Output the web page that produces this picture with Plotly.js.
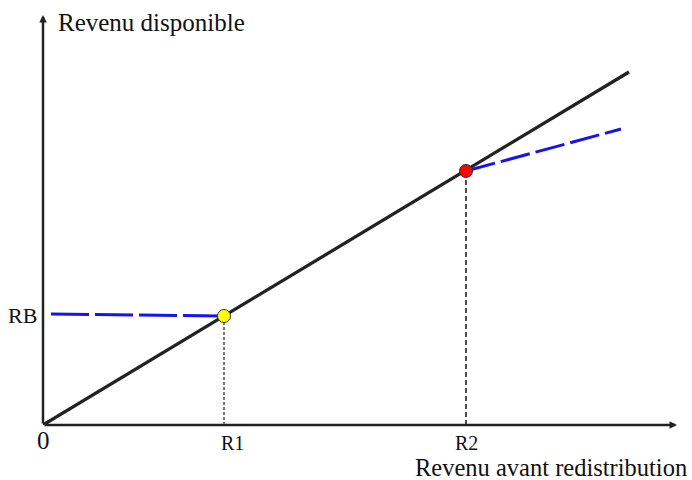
<!DOCTYPE html>
<html><head><meta charset="utf-8">
<script src="https://cdn.plot.ly/plotly-3.0.1.min.js"></script>
<style>html,body{margin:0;padding:0;background:#fff}</style>
</head><body><div id="chart" style="width:692px;height:480px"></div>
<script>
// Data (arbitrary income units)
var diagX = [0, 586];
var diagY = [0, 353];
var lowX = [8, 181];
var lowY = [111, 109];
var highX = [423, 578];
var highY = [254, 296];
var pointX = [181, 423];
var pointY = [109, 254];
var pointColors = ['#ffff00', '#ff0000'];
var tickLabels = ['0', 'R1', 'R2'];
var tickX = [0, 189, 423];
var rbLabel = 'RB';
var rbY = 110;
var xTitle = 'Revenu avant redistribution';
var yTitle = 'Revenu disponible';
var xMax = 634, yMax = 410;

var font = 'Liberation Serif, Times New Roman, serif';
var traces = [
  {x: diagX, y: diagY, mode: 'lines', line: {color: '#222', width: 3.3}, cliponaxis: false, hoverinfo: 'skip'},
  {x: lowX, y: lowY, mode: 'lines', line: {color: '#1414f0', width: 3, dash: '38px,6px'}, cliponaxis: false},
  {x: highX, y: highY, mode: 'lines', line: {color: '#1414f0', width: 3, dash: '30px,6px'}, cliponaxis: false},
  {x: [pointX[0], pointX[0]], y: [0, pointY[0]], mode: 'lines', line: {color: '#222', width: 1.2, dash: '3px,2px'}},
  {x: [pointX[1], pointX[1]], y: [0, pointY[1]], mode: 'lines', line: {color: '#222', width: 1.6, dash: '5px,3px'}},
  {x: pointX, y: pointY, mode: 'markers', marker: {color: pointColors, size: 13, line: {color: '#333', width: 1}}, cliponaxis: false}
];

var ann = [
  {x: xMax, y: 0, ax: 0, ay: 0, axref: 'x', ayref: 'y', xref: 'x', yref: 'y', showarrow: true, arrowhead: 2, arrowsize: 0.6, arrowwidth: 2.5, arrowcolor: '#222', text: ''},
  {x: 0, y: yMax, ax: 0, ay: 0, axref: 'x', ayref: 'y', xref: 'x', yref: 'y', showarrow: true, arrowhead: 2, arrowsize: 0.6, arrowwidth: 2.5, arrowcolor: '#222', text: ''},
  {x: 0, y: yMax, xref: 'x', yref: 'y', text: yTitle, showarrow: false, xanchor: 'left', yanchor: 'middle', xshift: 13, yshift: -7, font: {family: font, size: 25, color: '#111'}},
  {x: 1, y: 0, xref: 'paper', yref: 'y', text: xTitle, showarrow: false, xanchor: 'right', yanchor: 'middle', xshift: 12, yshift: -42, font: {family: font, size: 24.5, color: '#111'}},
  {x: 0, y: rbY, xref: 'x', yref: 'y', text: rbLabel, showarrow: false, xanchor: 'center', yanchor: 'middle', xshift: -21, font: {family: font, size: 22, color: '#111'}}
];
tickX.forEach(function (v, i) {
  ann.push({x: v, y: 0, xref: 'x', yref: 'y', text: tickLabels[i], showarrow: false, xanchor: 'center', yanchor: 'middle',
    yshift: i === 0 ? -15 : -18, font: {family: font, size: i === 0 ? 25 : 20, color: '#111'}});
});

var layout = {
  width: 692, height: 480,
  margin: {l: 43, r: 15, t: 15, b: 55},
  paper_bgcolor: '#fff', plot_bgcolor: '#fff',
  showlegend: false,
  xaxis: {range: [0, xMax], showgrid: false, zeroline: false, showticklabels: false, showline: false, ticks: ''},
  yaxis: {range: [0, yMax], showgrid: false, zeroline: false, showticklabels: false, showline: false, ticks: ''},
  annotations: ann
};
Plotly.newPlot('chart', traces, layout, {staticPlot: true});
</script></body></html>
